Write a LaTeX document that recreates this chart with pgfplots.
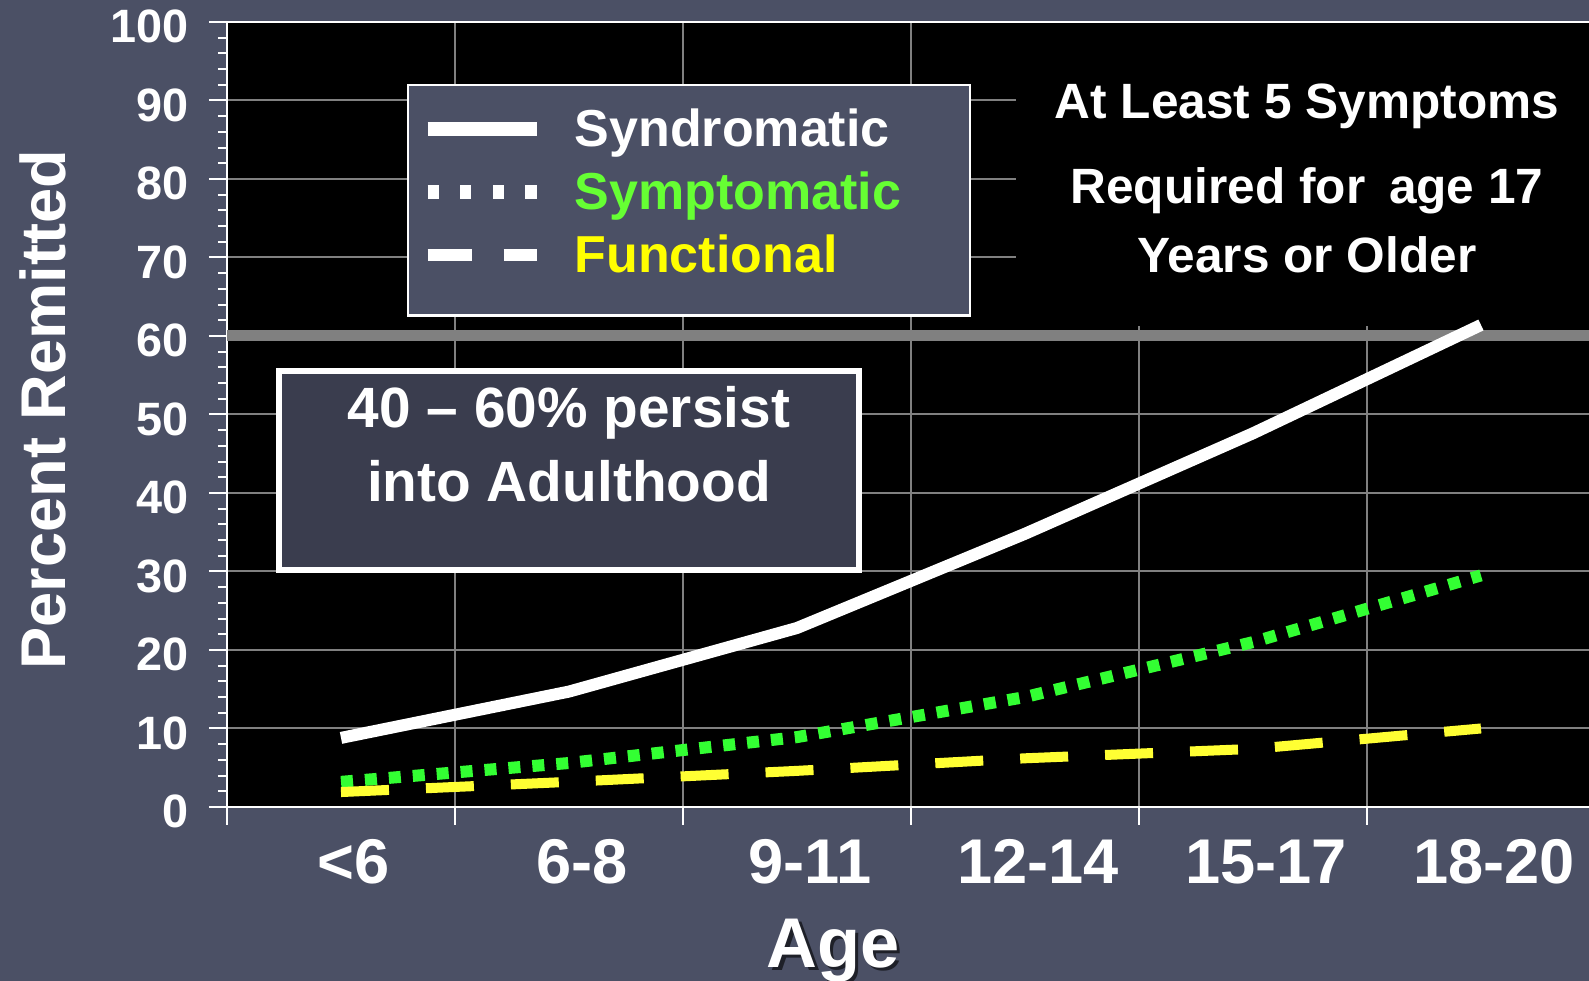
\documentclass[border=0pt]{standalone}
\usepackage{fontspec}
\setmainfont{Liberation Sans}
\usepackage{pgfplots}
\pgfplotsset{compat=1.18}

\definecolor{bg}{RGB}{75,80,101}
\definecolor{boxfill}{RGB}{58,61,78}
\definecolor{gridgray}{RGB}{128,128,128}
\definecolor{symgreen}{RGB}{51,255,51}
\definecolor{txtgreen}{RGB}{102,255,51}
\definecolor{funyellow}{RGB}{255,255,51}
\definecolor{txtyellow}{RGB}{255,255,0}

\begin{document}
\begin{tikzpicture}
% 1 px of the reference = 0.25pt
\path[use as bounding box, fill=bg] (0,0) rectangle (397.25pt,245.25pt);
\begin{axis}[
    at={(56.75pt,43.5pt)}, anchor=south west,
    scale only axis, width=342pt, height=196.25pt,
    xmin=-0.5, xmax=5.5, ymin=0, ymax=100,
    clip mode=individual,
    axis background/.style={fill=black},
    axis x line*=bottom, axis y line*=left,
    axis line style={white, line width=0.5pt, -},
    xtick={-0.5,0.5,1.5,2.5,3.5,4.5,5.5},
    xticklabels={<6,6-8,9-11,12-14,15-17,18-20,{}},
    ytick={0,10,...,100},
    minor y tick num=4,
    tick align=outside,
    major tick length=4.5pt, minor tick length=2.25pt,
    tick style={white, line width=0.5pt},
    grid=major,
    grid style={gridgray, line width=0.5pt},
    /pgf/number format/assume math mode=true,
    xticklabel style={font=\fontsize{15.8}{18}\selectfont\bfseries, text=white,
        anchor=base, inner sep=0pt, xshift=31.75pt, yshift=-14.6pt},
    yticklabel style={font=\fontsize{11.7}{14}\selectfont\bfseries, text=white,
        anchor=east, inner sep=0pt, xshift=-4.9pt, yshift=-1.2pt},
    ylabel={Percent Remitted},
    ylabel style={at={(axis description cs:-0.1345,0.506)}, anchor=center,
        font=\fontsize{15.8}{18}\selectfont\bfseries, text=white},
    legend style={at={(axis cs:0.346,90.34)}, anchor=north west,
        fill=none, draw=none, inner sep=0pt, row sep=0pt,
        text=white, font=\fontsize{13}{15.75}\selectfont\bfseries,
        nodes={inner sep=0pt, text height=12pt, text depth=3.75pt},
        /tikz/every odd column/.append style={column sep=7.75pt}},
    legend cell align=left,
]
% threshold line, note area and boxes
\draw[gridgray, line width=2.75pt] (axis cs:-0.5,60) -- (axis cs:5.6,60);
\fill[black] (axis cs:2.96,61.3) rectangle (axis cs:5.6,99.9);
\draw[white, line width=0.5pt] (axis cs:-0.5,100) -- (axis cs:5.6,100);
\draw[white, line width=0.6pt, fill=bg] (axis cs:0.294,92.0) rectangle (axis cs:2.759,62.6);
\draw[white, line width=1.5pt, fill=boxfill] (axis cs:-0.272,30.2) rectangle (axis cs:2.272,55.5);
\node[font=\fontsize{14.2}{17}\selectfont\bfseries, text=white] at (axis cs:1.0,50.2) {40 -- 60\% persist};
\node[font=\fontsize{14.2}{17}\selectfont\bfseries, text=white] at (axis cs:1.0,41.5) {into Adulthood};
\node[font=\fontsize{12.4}{14}\selectfont\bfseries, text=white] at (axis cs:4.237,89.3) {At Least 5 Symptoms};
\node[font=\fontsize{12.4}{14}\selectfont\bfseries, text=white] at (axis cs:4.237,78.5) {Required for\hspace{0.2em} age 17};
\node[font=\fontsize{12.4}{14}\selectfont\bfseries, text=white] at (axis cs:4.237,70.3) {Years or Older};
\node[font=\fontsize{17.6}{20}\selectfont\bfseries, text=black!60!bg] at (axis description cs:0.443,-0.183) [xshift=0.9pt, yshift=-0.9pt] {Age};
\node[font=\fontsize{17.6}{20}\selectfont\bfseries, text=white] at (axis description cs:0.443,-0.183) {Age};

\addplot[white, line width=3pt,
    legend image code/.code={\draw[white, line width=3.5pt] (0pt,0.25pt) -- (27.25pt,0.25pt);}]
    coordinates {(0,8.8) (1,14.7) (2,22.8) (3,34.8) (4,47.6) (5,61.4)};
\addlegendentry{Syndromatic}
\addplot[symgreen, line width=3pt, dash pattern=on 3pt off 3pt,
    legend image code/.code={\draw[white, line width=3.5pt, dash pattern=on 2.8pt off 5.35pt] (0pt,0.25pt) -- (27.25pt,0.25pt);}]
    coordinates {(0,3.2) (1,5.6) (2,8.9) (3,14.0) (4,21.0) (5,29.5)};
\addlegendentry{\textcolor{txtgreen}{Symptomatic}}
\addplot[funyellow, line width=2.5pt, dash pattern=on 12pt off 9.25pt,
    legend image code/.code={\draw[white, line width=3pt, dash pattern=on 11pt off 8pt] (0pt,0.25pt) -- (27.25pt,0.25pt);}]
    coordinates {(0,1.9) (1,3.2) (2,4.6) (3,6.2) (4,7.4) (5,10.0)};
\addlegendentry{\textcolor{txtyellow}{Functional}}
\end{axis}
\end{tikzpicture}
\end{document}
